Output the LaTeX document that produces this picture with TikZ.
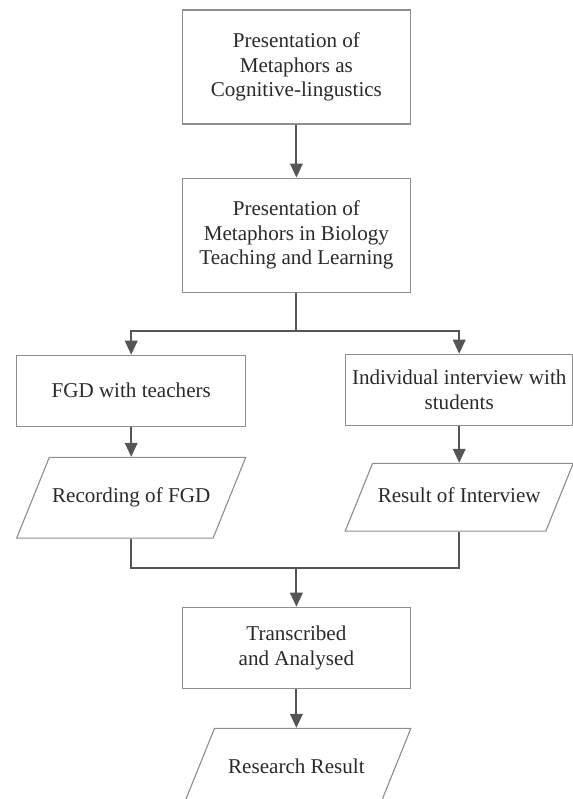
\documentclass[tikz,border=0pt]{standalone}
\usepackage{fontspec}
\setmainfont{Liberation Serif}
\usepackage{xcolor}
\usepackage{tikz}
\usetikzlibrary{arrows.meta,calc,positioning,shapes.geometric}

\definecolor{boxline}{HTML}{8E8E8E}
\definecolor{flowline}{HTML}{555555}
\definecolor{flowtext}{HTML}{2A2A2A}

\tikzset{
    process/.style={draw=boxline, line width=0.8pt, rectangle, align=center,
        inner sep=0pt, text=flowtext, font=\fontsize{15}{17.5}\selectfont},
    data/.style={process, trapezium, trapezium left angle=68,
        trapezium right angle=112, trapezium stretches body=true,
        text height=10.5pt, text depth=3.5pt, inner xsep=0pt, inner ysep=#1},
    data/.default=21.7pt,
    flow/.style={draw=flowline, line width=1.3pt},
    >={Triangle[length=10pt,width=9pt]}
}

\begin{document}
\begin{tikzpicture}
        \useasboundingbox (0,0) rectangle (14.325,-19.975);
        \clip (0,0) rectangle (14.325,-19.975);

        \node[process, minimum width=5.7cm, minimum height=2.85cm] (cognitive) at (7.41,-1.675)
            {Presentation of\\Metaphors as\\Cognitive-lingustics};
        \node[process, minimum width=5.7cm, minimum height=2.85cm,
              below=1.325cm of cognitive] (biology)
            {Presentation of\\Metaphors in Biology\\Teaching and Learning};
        \draw[flow,->] (cognitive.south) -- (biology.north);

        \coordinate[below=0.95cm of biology.south] (split);
        \draw[flow] (biology.south) -- (split);

        \node[process, minimum width=5.725cm, minimum height=1.775cm,
              below=1.55cm of biology, xshift=-4.13cm] (fgd) {FGD with teachers};
        \node[process, minimum width=5.675cm, minimum height=1.775cm,
              below=1.525cm of biology, xshift=4.07cm] (interview)
            {Individual interview with\\students};
        \draw[flow,->] (split) -| (fgd.north);
        \draw[flow,->] (split) -| (interview.north);

        \node[data, minimum width=5.725cm, below=0.75cm of fgd] (recording) {Recording of FGD};
        \node[data=17.1pt, minimum width=5.7cm, below=0.925cm of interview] (result) {Result of Interview};
        \draw[flow,->] (fgd.south) -- (recording.north);
        \draw[flow,->] (interview.south) -- (result.north);

        \node[process, minimum width=5.7cm, minimum height=2.025cm,
              below=7.85cm of biology] (analysed) {Transcribed\\and Analysed};
        \coordinate[above=0.975cm of analysed.north] (join);
        \draw[flow] (recording.south) |- (join);
        \draw[flow] (result.south) |- (join);
        \draw[flow,->] (join) -- (analysed.north);

        \node[data, minimum width=5.725cm, below=0.975cm of analysed] (research) {Research Result};
        \draw[flow,->] (analysed.south) -- (research.north);
    \end{tikzpicture}
\end{document}
